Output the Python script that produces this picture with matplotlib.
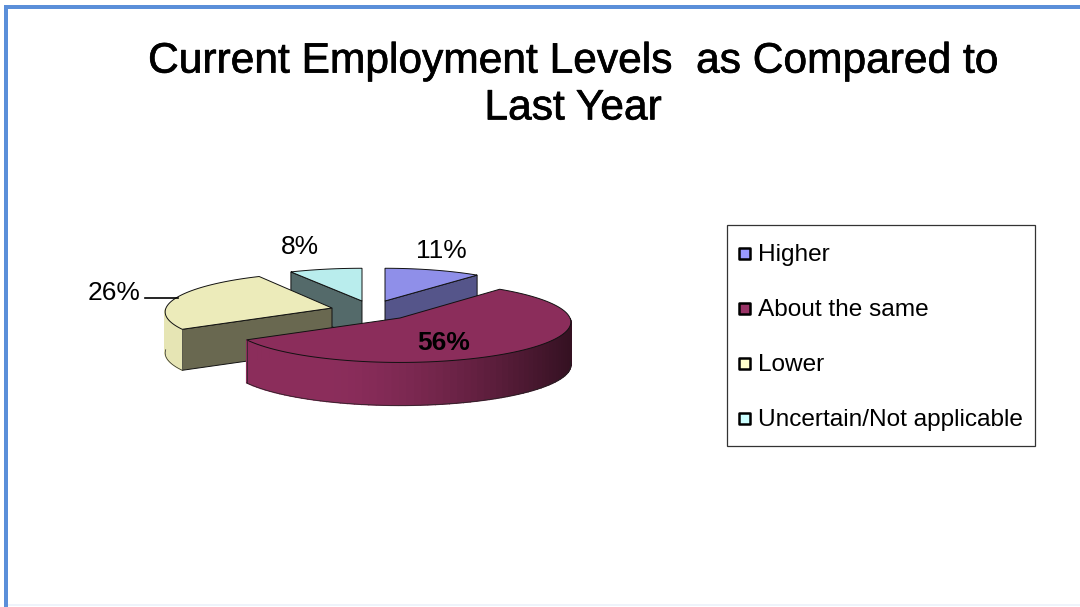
import numpy as np
import matplotlib
matplotlib.use("Agg")
import matplotlib.pyplot as plt
import matplotlib.patheffects as pe
from matplotlib.patches import Polygon, Rectangle

categories = ["Higher", "About the same", "Lower", "Uncertain/Not applicable"]
values = [11, 56, 26, 8]
title_text = "Current Employment Levels  as Compared to\nLast Year"

top_colors = ["#8f8fe9", "#8b2d5b", "#ecebba", "#b9eded"]
cut_colors = ["#55558a", "#55558a", "#696850", "#546a6a"]
wall_colors = ["#7a7ac4", "#8b2d5b", "#e6e5b4", "#9fcaca"]
legend_colors = ["#9999ff", "#993366", "#ffffcc", "#ccffff"]

# apex x, apex y, half width, half height, extrusion depth per slice
apex_x = [385, 400, 332, 362]
apex_y = [301, 318, 308, 301]
half_w = [157, 170, 166, 162]
half_h = [36, 40, 39, 36]
depth = [38, 43, 41, 38]
label_xy = [(441, 251), (444, 343), (114, 293), (299.5, 247)]
PERSP = 0.1

plt.rcParams["font.family"] = ["Liberation Sans", "DejaVu Sans"]


def disc_xy(i, theta):
    # clockwise from twelve o'clock, nearer points are drawn larger
    u, v = np.sin(theta), -np.cos(theta)
    den = 1 - PERSP * v
    return apex_x[i] + half_w[i] * u / den, apex_y[i] + half_h[i] * v / den


def blend(c1, c2, t):
    a = np.array(matplotlib.colors.to_rgb(c1))
    b = np.array(matplotlib.colors.to_rgb(c2))
    return tuple(a + (b - a) * t)


def draw_slice(ax, i, t0, t1):
    th = np.linspace(t0, t1, 90)
    xs, ys = disc_xy(i, th)
    d = depth[i]
    ax_, ay_ = apex_x[i], apex_y[i]

    # cut faces that show from the front
    if i != 1:
        ex, ey = (xs[-1], ys[-1]) if i == 0 else (xs[0], ys[0])
        ax.add_patch(Polygon([(ax_, ay_), (ex, ey), (ex, ey + d), (ax_, ay_ + d)],
                             fc=cut_colors[i], ec="#111111", lw=0.7))

    # outer wall, only the part that faces front
    front = (th >= np.pi / 2) & (th <= 3 * np.pi / 2)
    if front.sum() > 1:
        fx, fy = xs[front], ys[front]
        for k in range(len(fx) - 1):
            if i == 1:
                frac = np.clip((fx[k] - 330) / 240, 0, 1)
                col = blend("#8b2d5b", "#351122", frac ** 1.6)
            else:
                col = wall_colors[i]
            ax.add_patch(Polygon([(fx[k], fy[k]), (fx[k + 1], fy[k + 1]),
                                  (fx[k + 1], fy[k + 1] + d), (fx[k], fy[k] + d)],
                                 fc=col, ec=col, lw=1.0))
        ax.plot(fx, fy + d, color="#222222", lw=0.5)
        # outer vertical edge of the wall at the slice's own corner
        ex, ey = (xs[-1], ys[-1]) if i == 1 else (xs[0], ys[0])
        ax.plot([ex, ex], [ey, ey + d], color="#222222", lw=0.5)

    # top face
    ax.add_patch(Polygon(np.r_[[[ax_, ay_]], np.c_[xs, ys]], closed=True,
                         fc=top_colors[i], ec="#111111", lw=0.7))


fig = plt.figure(figsize=(10.8, 6.07), dpi=100)
ax = fig.add_axes([0, 0, 1, 1])
ax.set_xlim(0, 1080)
ax.set_ylim(607, 0)
ax.axis("off")

# slide frame
ax.add_patch(Rectangle((4, 5), 1076, 4, fc="#5b8fd9", ec="none"))
ax.add_patch(Rectangle((4, 5), 4, 602, fc="#5b8fd9", ec="none"))
ax.add_patch(Rectangle((8, 604), 1072, 2, fc="#eef3fb", ec="none"))

ax.text(573, 85, title_text, ha="center", va="center", fontsize=30.6,
        linespacing=1.22, color="black",
        path_effects=[pe.withStroke(linewidth=0.5, foreground="black")])

# pie, back slices first so the big front slice sits on top
fracs = np.array(values) / sum(values)
edges = np.r_[0, np.cumsum(fracs)] * 2 * np.pi
for i in [3, 0, 2, 1]:
    draw_slice(ax, i, edges[i], edges[i + 1])

for i, v in enumerate(values):
    ax.text(label_xy[i][0], label_xy[i][1], f"{v}%", ha="center", va="center",
            fontsize=19, color="black", fontweight="bold" if i == 1 else "normal")
ax.plot([145, 178], [298, 298], color="black", lw=1.2)

# legend box
ax.add_patch(Rectangle((727, 225), 308, 221, fc="white", ec="#333333", lw=0.9))
for i, name in enumerate(categories):
    y = 253 + i * 55.1
    ax.add_patch(Rectangle((739, y - 5.5), 11, 11, fc=legend_colors[i], ec="black",
                           lw=1.8, joinstyle="round"))
    ax.text(757.5, y + 7.7, name, ha="left", va="baseline", fontsize=17.6, color="black")

fig.savefig("out.png", dpi=100)
